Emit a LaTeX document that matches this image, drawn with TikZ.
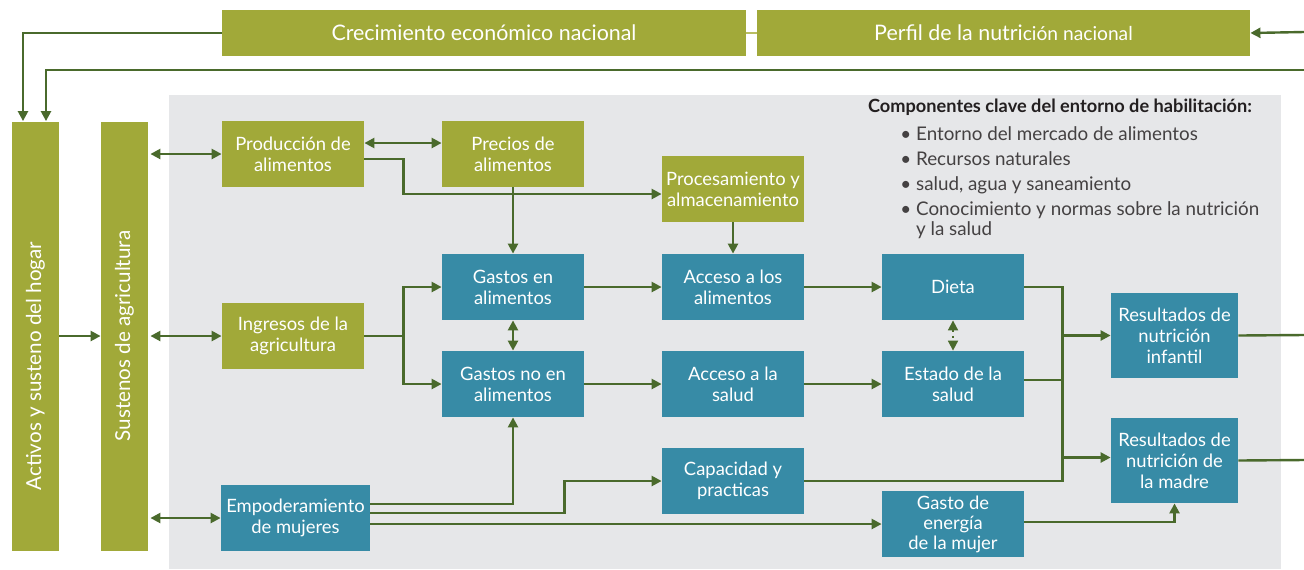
\documentclass[tikz,border=0pt]{standalone}
\usepackage{fontspec}
\setmainfont{Lato}
\usetikzlibrary{positioning, arrows.meta, calc}

\definecolor{olivo}{HTML}{A1A939}
\definecolor{azul}{HTML}{378BA6}
\definecolor{verdeosc}{HTML}{4A6A2C}
\definecolor{fondo}{HTML}{E6E7E9}
\definecolor{fino}{HTML}{B9BE62}
\definecolor{tinta}{HTML}{231F20}

\tikzset{
  verde/.style={rectangle, fill=olivo, text=white, align=center, inner sep=0pt,
    minimum width=71pt, minimum height=33pt, font=\fontsize{9.2}{10.4}\selectfont},
  azulbox/.style={verde, fill=azul},
  resultado/.style={azulbox, minimum width=63.5pt, minimum height=42.5pt},
  columna/.style={rectangle, fill=olivo, rotate=90, inner sep=0pt,
    minimum width=214.5pt, minimum height=23.5pt},
  coltexto/.style={rotate=90, text=white, inner sep=0pt, font=\fontsize{10.3}{12}\selectfont},
  cabeza/.style={rectangle, fill=olivo, text=white, inner sep=0pt,
    minimum height=23pt, font=\fontsize{10.7}{12}\selectfont},
  flecha/.style={color=verdeosc, line width=1.2pt, -{Triangle[length=5pt, width=5pt]}},
  doble/.style={color=verdeosc, line width=1.2pt,
    {Triangle[length=5pt, width=5pt]}-{Triangle[length=5pt, width=5pt]}},
  linea/.style={color=verdeosc, line width=1.2pt}
}

\begin{document}
\begin{tikzpicture}[x=0.5pt, y=-0.5pt, node distance=48.5pt and 110pt, on grid]
    \useasboundingbox (0,0) rectangle (1304,569);
    \fill[fondo] (169,95) rectangle (1281,569);

    % boxes
    \node[verde] (prod) at (293,154) {Producción de\\alimentos};
    \node[verde] (prec) [right=of prod] {Precios de\\alimentos};
    \node[verde] (proc) [below right=17.5pt and 110pt of prec] {Procesamiento y\\almacenamiento};
    \node[azulbox] (gen) [below=66.5pt of prec] {Gastos en\\alimentos};
    \node[azulbox] (aal) [right=of gen] {Acceso a los\\alimentos};
    \node[azulbox] (dieta) [right=of aal] {Dieta};
    \node[azulbox] (gno) [below=of gen] {Gastos no en\\alimentos};
    \node[azulbox] (asal) [right=of gno] {Acceso a la\\salud};
    \node[azulbox] (est) [right=of asal] {Estado de la\\salud};
    \node[azulbox] (cap) [below=of asal] {Capacidad y\\practicas};
    \node[azulbox, font=\fontsize{9.2}{10}\selectfont] (gasto) [below=70pt of est] {Gasto de\\energía\\de la mujer};
    \node[verde] (ingr) [below=91pt of prod] {Ingresos de la\\agricultura};
    \node[azulbox, minimum width=74.5pt] (empo) [below right=91pt and 1.25pt of ingr] {Empoderamiento\\de mujeres};
    \node[resultado] (rinf) [above right=24.25pt and 110.75pt of est] {Resultados de\\nutrición\\infantil};
    \node[resultado] (rmad) [below=62.5pt of rinf] {Resultados de\\nutrición de\\la madre};

    % columns (rotated: east is the top, south the right side)
    \node[columna] (sust) [left=84.25pt of ingr] {};
    \node[coltexto] (sust-t) at (sust) {Sustenos de agricultura};
    \node[columna] (act) [left=44.5pt of sust] {};
    \node[coltexto] (act-t) at ([yshift=-15pt]act.center) {Activos y susteno del hogar};

    % top
    \node[cabeza, minimum width=262pt] (crec) [above right=60.5pt and 95.5pt of prod] {Crecimiento económico nacional};
    \node[cabeza, minimum width=246.5pt] (perf) [right=259.75pt of crec]
        {Perfil de la nutri{\fontsize{9.6}{11}\selectfont ción nacional}};

    % key components
    \node[text=tinta, font=\fontsize{9.1}{10}\selectfont\bfseries] (comp) at (1060,107)
        {Componentes clave del entorno de habilitación:};
    \node[text=tinta!85, anchor=north west, align=left, inner sep=0pt,
        font=\fontsize{9.4}{12.5}\selectfont] (lista) at (900,126)
        {\textbullet\ Entorno del mercado de alimentos\\
         \textbullet\ Recursos naturales\\
         \textbullet\ salud, agua y saneamiento\\
         \textbullet\ Conocimiento y normas sobre la nutrición\\[-2.5pt]
         \phantom{\textbullet\ }y la salud};

    % free ends
    \coordinate (sal1) at (1304,32);
    \coordinate (sal2) at (1304,70);
    \coordinate (fin1) at (1304,335);
    \coordinate (fin2) at (1304,460);
    \coordinate (jn) at ([xshift=19pt]dieta.east);

    % top connectors
    \draw[fino, line width=1pt] (crec.east) -- (perf.west);
    \draw[flecha] (sal1) -- (perf.east);
    \draw[flecha] (crec.west) -| ([xshift=-6.25pt]act.east);
    \draw[flecha] (sal2) -| ([xshift=5.25pt]act.east);

    \path[flecha]
    (act) edge (sust)
    (prec) edge (gen)
    (proc) edge (aal)
    (gen) edge (aal)
    (aal) edge (dieta)
    (gno) edge (asal)
    (asal) edge (est)
    (jn |- rinf.west) edge (rinf.west)
    ([yshift=1.5pt]jn |- rmad.west) edge ([yshift=1.5pt]rmad.west);

    \path[doble]
    ([xshift=1pt]prod.west -| sust.south) edge (prod.west)
    ([xshift=1pt]ingr.west -| sust.south) edge (ingr.west)
    ([xshift=1pt]empo.west -| sust.south) edge (empo.west)
    ([yshift=5.5pt]prod.east) edge ([yshift=5.5pt]prec.west)
    (gen) edge (gno);

    \draw[doble, line width=0.9pt, dotted] (dieta) -- (est);

    \draw[flecha] ([yshift=-2.5pt]prod.east) -- ++(19.5pt,0) |- ([yshift=-2.5pt]proc.west);
    \draw[flecha] (ingr.east) -- ++(19.5pt,0) |- (gen.west);
    \draw[flecha] (ingr.east) -- ++(19.5pt,0) |- (gno.west);
    \draw[flecha] ([yshift=7pt]empo.east) -| (gno.south);
    \draw[flecha] ([yshift=2.5pt]empo.east) -- ++(97pt,0) |- (cap.west);
    \draw[flecha] (empo.east |- gasto.west) -- (gasto.west);
    \draw[flecha] ([yshift=1pt]gasto.east) -| (rmad.south);

    \draw[linea] (dieta.east) -| (jn) |- (cap.east);
    \draw[linea] ([yshift=2pt]est.east) -- ([yshift=2pt]jn |- est.east);
    \draw[linea] (rinf.east) -- (fin1);
    \draw[linea] (rmad.east) -- (fin2);
\end{tikzpicture}
\end{document}
